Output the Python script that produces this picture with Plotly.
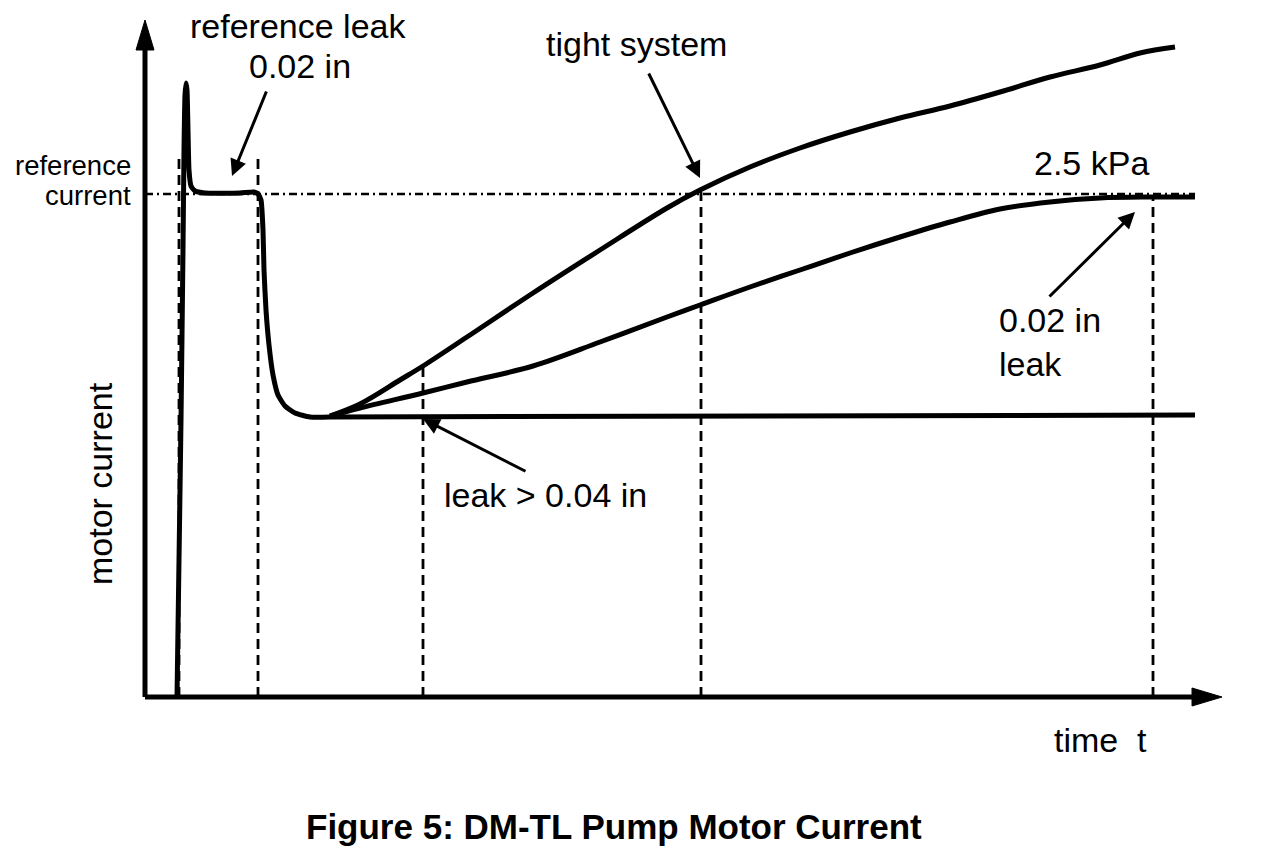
import plotly.graph_objects as go

# ---- data (time in px-like units from origin, current in px-like units from baseline) ----
startup_t = [32, 34, 36, 38, 39, 40, 41, 42, 43, 44, 46, 50, 60, 95, 109, 113, 116, 118, 119, 121, 124, 128, 133, 140, 150, 165, 185]
startup_i = [0, 137, 277, 447, 547, 602, 614, 607, 567, 527, 511, 506, 504, 504, 505, 503, 497, 467, 427, 387, 352, 322, 302, 291, 284, 280, 280]

leak004_t = [185, 555, 1050]
leak004_i = [280, 281, 282]

tight_t = [185, 215, 255, 278, 322, 388, 455, 522, 555, 605, 655, 705, 755, 805, 855, 905, 955, 995, 1030]
tight_i = [281, 293, 317, 331, 360, 404, 447, 489, 507, 530, 549, 565, 579, 591, 605, 620, 632, 644, 650]

leak002_t = [185, 215, 278, 322, 388, 455, 522, 555, 605, 655, 705, 755, 805, 855, 905, 955, 1005, 1050]
leak002_i = [281, 289, 304, 315, 331, 355, 380, 392, 410, 427, 444, 460, 475, 488, 495, 499, 500, 500]

ref_current = 503
ref_t = [0, 1050]

guide_t = [34, 113, 278, 556, 1008]
guide_top = [539, 539, 330, 505, 500]

axis_t_end = 1077
axis_i_end = 677

FONT = "Liberation Sans, Arial, Helvetica, sans-serif"
BLACK = "#000000"

fig = go.Figure()

# dashed guides
for t, top in zip(guide_t, guide_top):
    fig.add_trace(go.Scatter(x=[t, t], y=[0, top], mode="lines",
                             line=dict(color=BLACK, width=2.8, dash="10px,6px"),
                             hoverinfo="skip", showlegend=False))

# reference current dash-dot line
fig.add_trace(go.Scatter(x=ref_t, y=[ref_current, ref_current], mode="lines",
                         line=dict(color=BLACK, width=2.4, dash="8px,4px,2px,4px"),
                         hoverinfo="skip", showlegend=False))

# curves
CW = 5
fig.add_trace(go.Scatter(x=startup_t, y=startup_i, mode="lines",
                         line=dict(color=BLACK, width=CW, shape="spline", smoothing=0.5),
                         showlegend=False))
fig.add_trace(go.Scatter(x=leak004_t, y=leak004_i, mode="lines",
                         line=dict(color=BLACK, width=CW), showlegend=False))
fig.add_trace(go.Scatter(x=tight_t, y=tight_i, mode="lines",
                         line=dict(color=BLACK, width=CW, shape="spline", smoothing=1.0),
                         showlegend=False))
fig.add_trace(go.Scatter(x=leak002_t, y=leak002_i, mode="lines",
                         line=dict(color=BLACK, width=CW, shape="spline", smoothing=1.0),
                         showlegend=False))

# axes with arrowheads
head_len = 30
head_half = 9
fig.add_shape(type="line", x0=0, y0=0, x1=0, y1=axis_i_end - head_len,
              line=dict(color=BLACK, width=5))
fig.add_shape(type="line", x0=0, y0=0, x1=axis_t_end - head_len, y1=0,
              line=dict(color=BLACK, width=5))
fig.add_shape(type="path",
              path=f"M {-head_half},{axis_i_end - head_len} L {head_half},{axis_i_end - head_len} L 0,{axis_i_end} Z",
              fillcolor=BLACK, line=dict(color=BLACK, width=1))
fig.add_shape(type="path",
              path=f"M {axis_t_end - head_len},{-head_half} L {axis_t_end - head_len},{head_half} L {axis_t_end},0 Z",
              fillcolor=BLACK, line=dict(color=BLACK, width=1))

# pointer arrows
arrows = [
    ((122, 607), (87, 521)),
    ((503, 625), (555, 519)),
    ((903, 399), (990, 485)),
    ((382, 225), (278, 278)),
]
for (tx, ty), (hx, hy) in arrows:
    fig.add_annotation(x=hx, y=hy, ax=tx, ay=ty, xref="x", yref="y", axref="x", ayref="y",
                       text="", showarrow=True, arrowhead=2, arrowsize=1.1, arrowwidth=3,
                       arrowcolor=BLACK, standoff=0, startstandoff=0)

def label(x, y, text, size=34, xanchor="center", align="center", angle=0, bold=False):
    if bold:
        text = f"<b>{text}</b>"
    fig.add_annotation(x=x, y=y, xref="x", yref="y", text=text, showarrow=False,
                       xanchor=xanchor, yanchor="middle", align=align, textangle=angle,
                       font=dict(family=FONT, size=size, color=BLACK))

label(153, 671, "reference leak")
label(155, 631, "0.02 in")
label(491, 653, "tight system")
label(946, 534, "2.5 kPa")
label(852, 355, "0.02 in<br>leak", xanchor="left", align="left")
label(297, 202, "leak &gt; 0.04 in", xanchor="left")
label(-12, 532, "reference", size=27.5, xanchor="right", align="right")
label(-12, 502, "current", size=27.5, xanchor="right", align="right")
label(-45, 213, "motor current", angle=-90)
label(955, -43, "time\u00a0\u00a0t")
label(469, -129, "Figure 5: DM-TL Pump Motor Current", size=35, bold=True)

fig.update_layout(
    width=1264, height=852,
    margin=dict(l=0, r=0, t=0, b=0),
    paper_bgcolor="white", plot_bgcolor="white",
    xaxis=dict(range=[-145, 1119], visible=False, fixedrange=True),
    yaxis=dict(range=[-155, 697], visible=False, fixedrange=True),
    showlegend=False,
)

fig.write_html("out.html", config={"displayModeBar": False},
               post_script="document.body.style.margin='0';document.body.style.overflow='hidden';")
